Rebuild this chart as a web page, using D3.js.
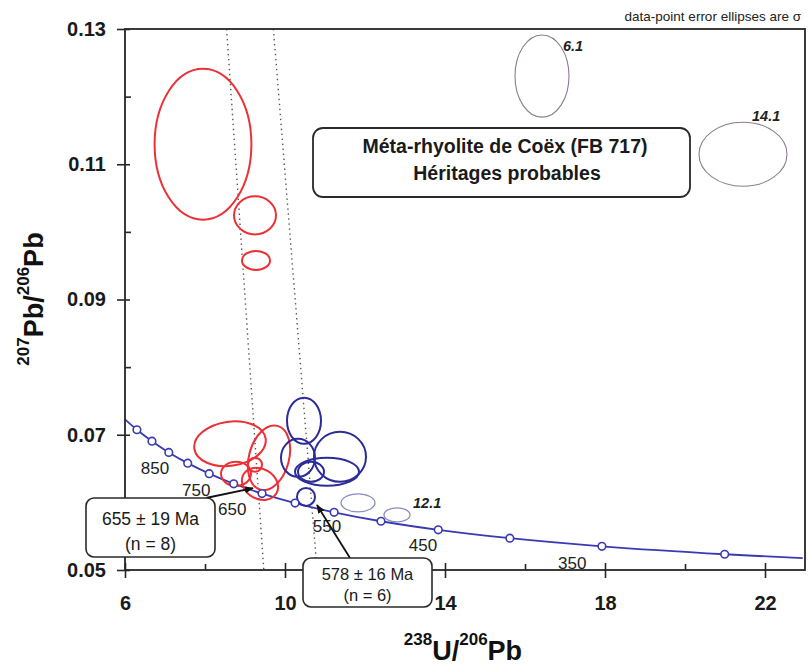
<!DOCTYPE html>
<html>
<head>
<meta charset="utf-8">
<script src="https://d3js.org/d3.v7.min.js"></script>
<style>
  body { margin: 0; background: #fff; }
  svg { display: block; font-family: "Liberation Sans", Arial, Helvetica, sans-serif; }
</style>
</head>
<body>
<svg id="chart" width="808" height="667"></svg>
<script>
// --- values ---
// concordia (Tera-Wasserburg), age in Ma and its 238U/206Pb , 207Pb/206Pb position
const concordiaAge = [1000, 950, 900, 850, 800, 750, 700, 650, 600, 550, 500, 450, 400, 350, 300, 275]
const concordiaX = [5.959, 6.298, 6.674, 7.095, 7.568, 8.105, 8.718, 9.426, 10.252, 11.228, 12.399, 13.831, 15.621, 17.923, 20.992, 22.945]
const concordiaY = [0.07249, 0.07074, 0.06905, 0.06739, 0.06580, 0.06425, 0.06275, 0.06130, 0.05990, 0.05853, 0.05721, 0.05594, 0.05470, 0.05350, 0.05233, 0.05177]

// age labels along the curve
const ageLabels = ['850', '750', '650', '550', '450', '350']
const ageLabelX = [6.75, 7.78, 8.68, 11.05, 13.45, 17.18]
const ageLabelY = [0.06511, 0.06185, 0.05904, 0.05652, 0.0537, 0.05104]

// error ellipses : centre, half-width in x, half-height in y, tilt in degrees
const inheritedRed = [
  { x: 7.95, y: 0.11296, sx: 1.21, sy: 0.01115, tilt: 0 },
  { x: 9.25, y: 0.10244, sx: 0.525, sy: 0.00282, tilt: 0 },
  { x: 9.275, y: 0.09578, sx: 0.35, sy: 0.00141, tilt: 0 },
  { x: 8.625, y: 0.06867, sx: 0.9, sy: 0.00326, tilt: -8 },
  { x: 9.6, y: 0.06659, sx: 0.5, sy: 0.00489, tilt: 15 },
  { x: 8.775, y: 0.06422, sx: 0.375, sy: 0.00178, tilt: 0 },
  { x: 9.25, y: 0.06556, sx: 0.175, sy: 0.00104, tilt: 0 },
  { x: 9.375, y: 0.06274, sx: 0.475, sy: 0.00222, tilt: 30 }
]
const youngBlue = [
  { x: 10.475, y: 0.07207, sx: 0.425, sy: 0.00341, tilt: 0 },
  { x: 10.325, y: 0.06659, sx: 0.425, sy: 0.00281, tilt: 0 },
  { x: 11.375, y: 0.06674, sx: 0.65, sy: 0.0037, tilt: 0 },
  { x: 11.05, y: 0.06452, sx: 0.8, sy: 0.00207, tilt: 0 },
  { x: 10.65, y: 0.06452, sx: 0.325, sy: 0.00148, tilt: 0 },
  { x: 10.525, y: 0.06081, sx: 0.225, sy: 0.00133, tilt: 0 }
]
const excludedUpper = [
  { x: 16.425, y: 0.12304, sx: 0.675, sy: 0.00607, tilt: 0 },
  { x: 21.45, y: 0.11148, sx: 1.1, sy: 0.00474, tilt: 0 }
]
const excludedLower = [
  { x: 11.825, y: 0.05993, sx: 0.425, sy: 0.00133, tilt: 0 },
  { x: 12.8, y: 0.05815, sx: 0.325, sy: 0.00104, tilt: 0 }
]
// analysis numbers of the excluded points
const excludedLabels = ['6.1', '14.1', '12.1']
const excludedLabelX = [16.95, 21.675, 13.2]
const excludedLabelY = [0.12675, 0.1164, 0.05917]

// dotted reference lines, two end points each
const refLines = [
  [[8.54, 0.13], [9.47, 0.05]],
  [[9.71, 0.13], [10.8, 0.05]]
]

const xMajor = [6, 10, 14, 18, 22]
const xMinor = [8, 12, 16, 20]
const yMajor = [0.05, 0.07, 0.09, 0.11, 0.13]
const yMinor = [0.06, 0.08, 0.10, 0.12]

document.addEventListener('DOMContentLoaded', function () {
  const svg = d3.select('#chart')
  const ink = '#262626'

  const x = d3.scaleLinear().domain([6, 23]).range([125, 805])
  const y = d3.scaleLinear().domain([0.05, 0.13]).range([570, 29])

  svg.append('defs').append('clipPath').attr('id', 'plotclip')
    .append('rect').attr('x', x(6)).attr('y', y(0.13))
    .attr('width', x(23) - x(6)).attr('height', y(0.05) - y(0.13))

  const arrowDef = svg.select('defs').append('marker')
    .attr('id', 'arrowhead').attr('viewBox', '0 0 10 10')
    .attr('refX', 9).attr('refY', 5)
    .attr('markerWidth', 9).attr('markerHeight', 9)
    .attr('markerUnits', 'userSpaceOnUse')
    .attr('orient', 'auto')
  arrowDef.append('path').attr('d', 'M0,1 L10,5 L0,9 Z').attr('fill', '#111')

  const plot = svg.append('g').attr('clip-path', 'url(#plotclip)')

  // dotted lines
  plot.selectAll('.ref')
    .data(refLines).join('path')
    .attr('d', d => d3.line().x(p => x(p[0])).y(p => y(p[1]))(d))
    .attr('fill', 'none')
    .attr('stroke', '#555')
    .attr('stroke-width', 1.4)
    .attr('stroke-dasharray', '1.4,3.6')

  // ellipses
  function drawEllipses(data, color, width) {
    plot.append('g').selectAll('ellipse')
      .data(data).join('ellipse')
      .attr('cx', 0).attr('cy', 0)
      .attr('rx', d => x(6 + d.sx) - x(6))
      .attr('ry', d => y(0.05) - y(0.05 + d.sy))
      .attr('transform', d => `translate(${x(d.x)},${y(d.y)}) rotate(${d.tilt})`)
      .attr('fill', 'none')
      .attr('stroke', color)
      .attr('stroke-width', width)
  }
  drawEllipses(excludedUpper, '#8a7c92', 1.1)
  drawEllipses(excludedLower, '#8d8dc6', 1.3)

  // concordia curve
  const concordia = concordiaAge.map((a, i) => ({ age: a, x: concordiaX[i], y: concordiaY[i] }))
  plot.append('path')
    .datum(concordia)
    .attr('d', d3.line().x(d => x(d.x)).y(d => y(d.y)).curve(d3.curveCatmullRom))
    .attr('fill', 'none')
    .attr('stroke', '#3a3ab2')
    .attr('stroke-width', 1.8)

  drawEllipses(inheritedRed, '#ec3036', 2)
  drawEllipses(youngBlue, '#2c2c98', 2)

  plot.append('g').selectAll('circle')
    .data(concordia.filter(d => d.age % 50 === 0 && d.x >= 6))
    .join('circle')
    .attr('cx', d => x(d.x)).attr('cy', d => y(d.y))
    .attr('r', 3.8)
    .attr('fill', '#fff')
    .attr('stroke', '#3a3ab2')
    .attr('stroke-width', 1.6)

  // age labels
  svg.append('g').selectAll('text')
    .data(ageLabels).join('text')
    .attr('x', (d, i) => x(ageLabelX[i]))
    .attr('y', (d, i) => y(ageLabelY[i]))
    .attr('dy', '0.36em')
    .attr('text-anchor', 'middle')
    .attr('font-size', 17)
    .attr('fill', '#222')
    .text(d => d)

  // numbers of excluded analyses
  svg.append('g').selectAll('text')
    .data(excludedLabels).join('text')
    .attr('x', (d, i) => x(excludedLabelX[i]))
    .attr('y', (d, i) => y(excludedLabelY[i]))
    .attr('font-size', 14.5)
    .attr('font-weight', 'bold')
    .attr('font-style', 'italic')
    .attr('fill', '#222')
    .text(d => d)

  // axes
  const yAxis = svg.append('g')
    .attr('transform', `translate(${x(6)},0)`)
    .call(d3.axisLeft(y).tickValues(yMajor).tickFormat(d3.format('.2f')).tickSize(8).tickPadding(11))
  yAxis.select('.domain').remove()
  yAxis.selectAll('.tick line').attr('x1', 5).attr('stroke', ink).attr('stroke-width', 1.6)
  yAxis.selectAll('.tick text')
    .attr('font-size', 20).attr('font-weight', 'bold').attr('fill', '#1a1a1a')
    .attr('font-family', '"Liberation Sans", Arial, sans-serif')

  const yMinorAxis = svg.append('g')
    .attr('transform', `translate(${x(6)},0)`)
    .call(d3.axisLeft(y).tickValues(yMinor).tickFormat('').tickSize(-6))
  yMinorAxis.select('.domain').remove()
  yMinorAxis.selectAll('.tick line').attr('stroke', ink).attr('stroke-width', 1.6)

  const xAxis = svg.append('g')
    .attr('transform', `translate(0,${y(0.05)})`)
    .call(d3.axisBottom(x).tickValues(xMajor).tickSize(8).tickPadding(18))
  xAxis.select('.domain').remove()
  xAxis.selectAll('.tick line').attr('y1', -7).attr('stroke', ink).attr('stroke-width', 1.6)
  xAxis.selectAll('.tick text')
    .attr('font-size', 20).attr('font-weight', 'bold').attr('fill', '#1a1a1a')
    .attr('font-family', '"Liberation Sans", Arial, sans-serif')

  const xMinorAxis = svg.append('g')
    .attr('transform', `translate(0,${y(0.05)})`)
    .call(d3.axisBottom(x).tickValues(xMinor).tickFormat('').tickSize(-6))
  xMinorAxis.select('.domain').remove()
  xMinorAxis.selectAll('.tick line').attr('stroke', ink).attr('stroke-width', 1.6)

  // frame
  svg.append('rect')
    .attr('x', x(6)).attr('y', y(0.13))
    .attr('width', x(23) - x(6)).attr('height', y(0.05) - y(0.13))
    .attr('fill', 'none').attr('stroke', ink).attr('stroke-width', 1.8)

  // axis titles
  const yTitle = svg.append('text')
    .attr('transform', 'translate(43,299) rotate(-90)')
    .attr('text-anchor', 'middle')
    .attr('font-weight', 'bold')
    .attr('fill', '#111')
  yTitle.append('tspan').attr('font-size', 17).attr('dy', -14).text('207')
  yTitle.append('tspan').attr('font-size', 27).attr('dy', 14).text('Pb/')
  yTitle.append('tspan').attr('font-size', 17).attr('dy', -14).text('206')
  yTitle.append('tspan').attr('font-size', 27).attr('dy', 14).text('Pb')

  const xTitle = svg.append('text')
    .attr('x', 463).attr('y', 660)
    .attr('text-anchor', 'middle')
    .attr('font-weight', 'bold')
    .attr('fill', '#111')
  xTitle.append('tspan').attr('font-size', 17).attr('dy', -15).text('238')
  xTitle.append('tspan').attr('font-size', 27).attr('dy', 15).text('U/')
  xTitle.append('tspan').attr('font-size', 17).attr('dy', -15).text('206')
  xTitle.append('tspan').attr('font-size', 27).attr('dy', 15).text('Pb')

  // note at the top right
  svg.append('text')
    .attr('x', 801).attr('y', 21)
    .attr('text-anchor', 'end')
    .attr('font-size', 13.5)
    .attr('fill', '#222')
    .text('data-point error ellipses are σ')

  // title box
  const titleBox = svg.append('g')
  titleBox.append('rect')
    .attr('x', 313).attr('y', 128).attr('width', 377).attr('height', 69)
    .attr('rx', 10)
    .attr('fill', '#fff').attr('stroke', '#2a2a2a').attr('stroke-width', 1.8)
  titleBox.append('text')
    .attr('x', 505).attr('y', 153)
    .attr('text-anchor', 'middle').attr('font-size', 19.5).attr('font-weight', 'bold').attr('fill', '#1a1a1a')
    .text('Méta-rhyolite de Coëx (FB 717)')
  titleBox.append('text')
    .attr('x', 507).attr('y', 180)
    .attr('text-anchor', 'middle').attr('font-size', 19.5).attr('font-weight', 'bold').attr('fill', '#1a1a1a')
    .text('Héritages probables')

  // age call-outs with arrows
  const callouts = [
    { lines: ['655 ± 19 Ma', '(n = 8)'], box: [86, 498, 129, 59], base: [27, 52], size: 17.5,
      from: [206, 498], to: [x(9.2), y(0.0621)] },
    { lines: ['578 ± 16 Ma', '(n = 6)'], box: [303, 558, 129, 49], base: [22, 43], size: 16.5,
      from: [350, 558], to: [x(10.8), y(0.0596)] }
  ]
  callouts.forEach(c => {
    svg.append('line')
      .attr('x1', c.from[0]).attr('y1', c.from[1])
      .attr('x2', c.to[0]).attr('y2', c.to[1])
      .attr('stroke', '#111').attr('stroke-width', 1.8)
      .attr('marker-end', 'url(#arrowhead)')
    const g = svg.append('g')
    g.append('rect')
      .attr('x', c.box[0]).attr('y', c.box[1]).attr('width', c.box[2]).attr('height', c.box[3])
      .attr('rx', 8)
      .attr('fill', '#fff').attr('stroke', '#2a2a2a').attr('stroke-width', 1.6)
    g.selectAll('text').data(c.lines).join('text')
      .attr('x', c.box[0] + c.box[2] / 2)
      .attr('y', (d, i) => c.box[1] + c.base[i])
      .attr('text-anchor', 'middle')
      .attr('font-size', c.size)
      .attr('fill', '#1a1a1a')
      .text(d => d)
  })
})
</script>
</body>
</html>
